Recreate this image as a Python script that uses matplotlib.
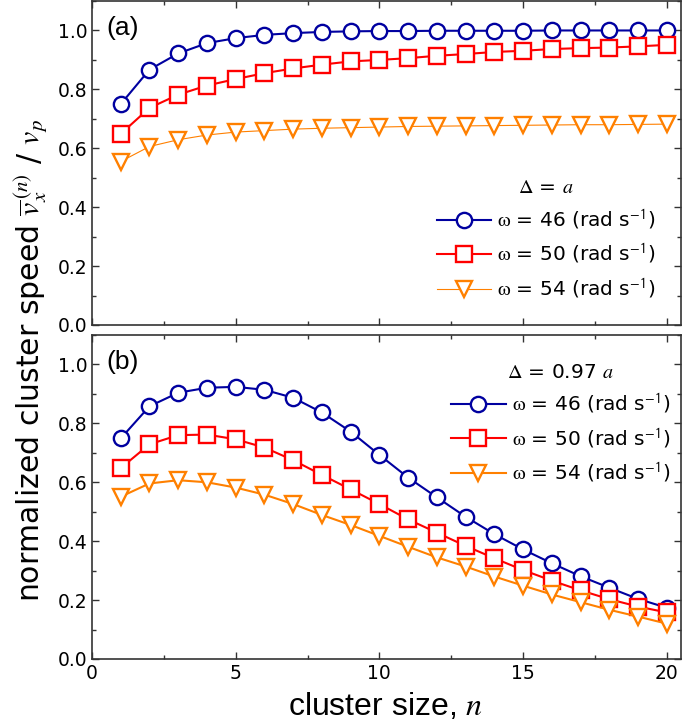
import numpy as np
import matplotlib
matplotlib.use("Agg")
import matplotlib.pyplot as plt
from matplotlib.ticker import MultipleLocator

# cluster size
n = np.arange(1, 21)
omegas = [46, 50, 54]

# (a) Delta = a
va_46 = [0.75, 0.867, 0.922, 0.957, 0.974, 0.985, 0.991, 0.995, 0.997, 0.998,
         0.998, 0.999, 0.999, 0.999, 0.999, 1.0, 1.0, 1.0, 1.0, 1.0]
va_50 = [0.649, 0.737, 0.782, 0.813, 0.835, 0.855, 0.871, 0.884, 0.895, 0.900,
         0.906, 0.914, 0.920, 0.927, 0.931, 0.937, 0.940, 0.942, 0.946, 0.951]
va_54 = [0.555, 0.606, 0.629, 0.645, 0.655, 0.660, 0.665, 0.668, 0.670, 0.672,
         0.674, 0.675, 0.676, 0.677, 0.678, 0.679, 0.680, 0.680, 0.681, 0.682]

# (b) Delta = 0.97 a
vb_46 = [0.749, 0.858, 0.904, 0.921, 0.924, 0.914, 0.887, 0.837, 0.772, 0.693,
         0.616, 0.549, 0.483, 0.424, 0.372, 0.325, 0.281, 0.242, 0.204, 0.174]
vb_50 = [0.648, 0.729, 0.760, 0.762, 0.746, 0.718, 0.675, 0.625, 0.576, 0.526,
         0.474, 0.429, 0.384, 0.342, 0.302, 0.266, 0.233, 0.203, 0.178, 0.158]
vb_54 = [0.551, 0.596, 0.607, 0.600, 0.582, 0.558, 0.526, 0.489, 0.455, 0.418,
         0.381, 0.345, 0.314, 0.280, 0.249, 0.219, 0.193, 0.167, 0.144, 0.120]

plt.rcParams["mathtext.fontset"] = "stix"
plt.rcParams["font.family"] = "DejaVu Sans"

blue = "#0000A0"
red = "#FF0000"
orange = "#FF8000"

fig = plt.figure(figsize=(6.85, 7.28), dpi=100)
ax_a = fig.add_axes([0.1343, 0.5536, 0.86, 0.445])
ax_b = fig.add_axes([0.1343, 0.0948, 0.86, 0.445])


def style_axis(ax):
    ax.set_xlim(0, 20.5)
    ax.set_ylim(0, 1.1)
    ax.xaxis.set_major_locator(MultipleLocator(5))
    ax.xaxis.set_minor_locator(MultipleLocator(2.5))
    ax.yaxis.set_major_locator(MultipleLocator(0.2))
    ax.yaxis.set_minor_locator(MultipleLocator(0.1))
    ax.tick_params(which="both", direction="in", top=True, right=True,
                   labelsize=13.5, width=1.0, color="#333333")
    ax.tick_params(which="major", length=5)
    ax.tick_params(which="minor", length=3)
    ax.yaxis.set_major_formatter(matplotlib.ticker.FormatStrFormatter("%.1f"))
    for sp in ax.spines.values():
        sp.set_linewidth(1.2)
        sp.set_color("#333333")


def label(w):
    return r"$\mathrm{\omega}$ = %d (rad s$^{\mathsf{-1}}$)" % w


mk = dict(markersize=11, markeredgewidth=1.7, markerfacecolor="white")
leg_kw = dict(frameon=False, fontsize=14.5, title_fontsize=14.5,
              handlelength=2.7, handletextpad=0.3, labelspacing=0.52,
              borderaxespad=0.0)

ax_a.plot(n, va_46, "-o", color=blue, lw=1.5, label=label(omegas[0]), **mk)
ax_a.plot(n, va_50, "-s", color=red, lw=1.5, label=label(omegas[1]), **mk)
ax_a.plot(n, va_54, "-v", color=orange, lw=0.8, label=label(omegas[2]), **mk)
style_axis(ax_a)
ax_a.tick_params(labelbottom=False)
ax_a.text(0.025, 0.955, "(a)", transform=ax_a.transAxes, fontsize=19,
          family="Liberation Sans", va="top")
ax_a.legend(loc="lower right", bbox_to_anchor=(0.97, 0.05),
            title=r"$\Delta$ = $a$", **leg_kw)

ax_b.plot(n, vb_46, "-o", color=blue, lw=1.5, label=label(omegas[0]), **mk)
ax_b.plot(n, vb_50, "-s", color=red, lw=1.5, label=label(omegas[1]), **mk)
ax_b.plot(n, vb_54, "-v", color=orange, lw=1.5, label=label(omegas[2]), **mk)
style_axis(ax_b)
ax_b.text(0.025, 0.955, "(b)", transform=ax_b.transAxes, fontsize=19,
          family="Liberation Sans", va="top")
ax_b.legend(loc="upper right", bbox_to_anchor=(0.995, 0.94),
            title=r"$\Delta$ = 0.97 $a$", **leg_kw)

fig.text(0.563, 0.029, r"cluster size, $n$", ha="center", va="center",
         fontsize=23, family="Liberation Sans")
fig.text(0.045, 0.505,
         r"normalized cluster speed $\overline{v}_x^{\,(n)}$ / $v_p$",
         rotation=90, ha="center", va="center", fontsize=21.5)

fig.savefig("out.png", dpi=100)
